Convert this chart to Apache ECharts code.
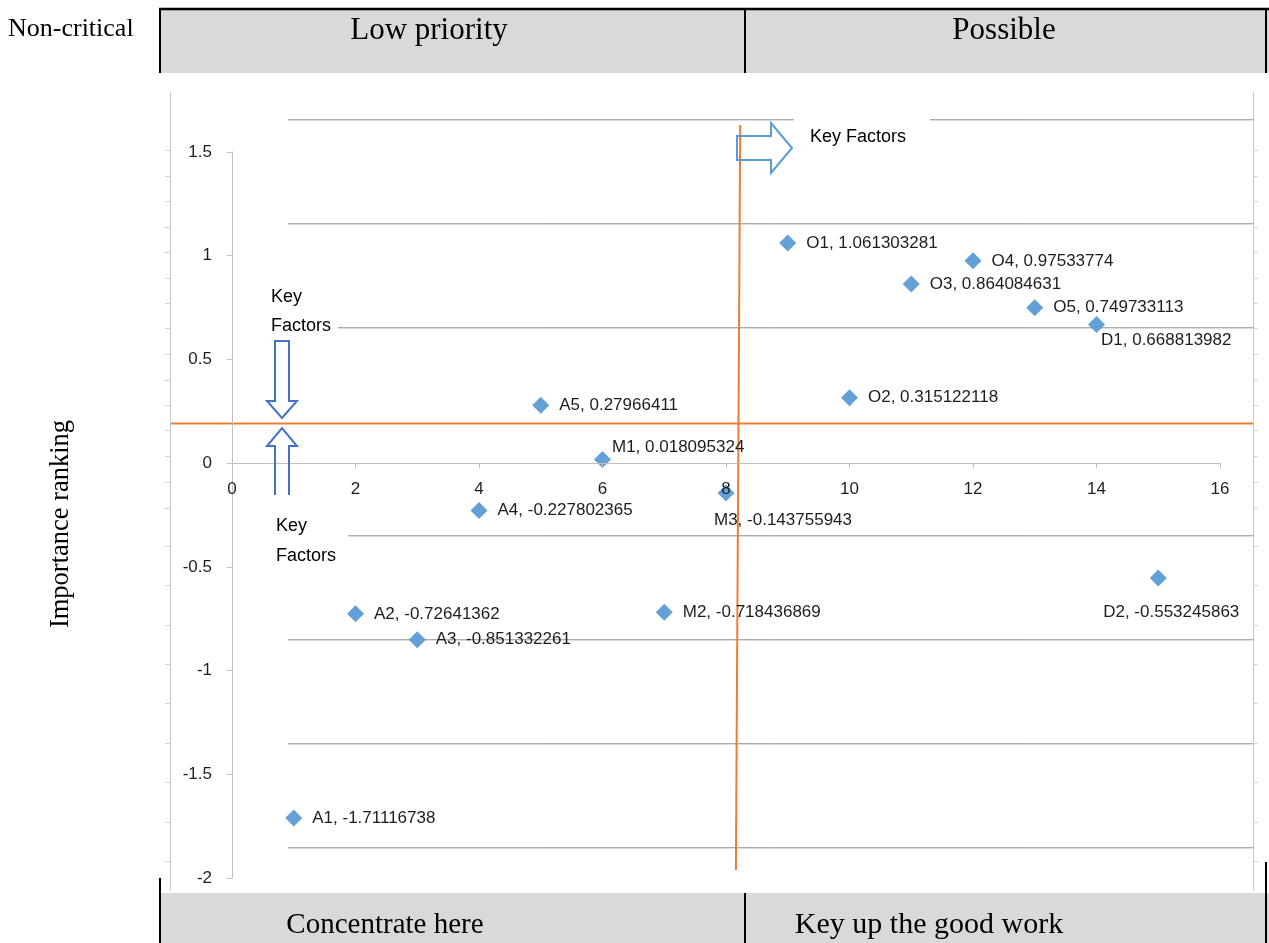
<!DOCTYPE html>
<html>
<head>
<meta charset="utf-8">
<script src="https://cdn.jsdelivr.net/npm/echarts@6/dist/echarts.min.js"></script>
<style>
  html, body { margin: 0; padding: 0; background: #ffffff; }
  #chart { width: 1269px; height: 943px; }
</style>
</head>
<body>
<div id="chart"></div>
<script>
// Factor codes, their sequence position and importance score
const factorNames = ['A1', 'A2', 'A3', 'A4', 'A5', 'M1', 'M2', 'M3', 'O1', 'O2', 'O3', 'O4', 'O5', 'D1', 'D2'];
const factorX = [1, 2, 3, 4, 5, 6, 7, 8, 9, 10, 11, 12, 13, 14, 15];
const factorY = [-1.71116738, -0.72641362, -0.851332261, -0.227802365, 0.27966411, 0.018095324,
  -0.718436869, -0.143755943, 1.061303281, 0.315122118, 0.864084631, 0.97533774, 0.749733113,
  0.668813982, -0.553245863];

// Threshold lines splitting the key factors
const thresholdY = 0.19;
const thresholdX = [8.23, 8.16];

// Ruled guide lines across the plot
const guideLevels = [1.65, 1.15, 0.65, -0.35, -0.85, -1.35, -1.85];

// Minor ticks on the outer frame
const frameTicks = [1.505, 1.38, 1.26, 1.135, 1.014, 0.889, 0.769, 0.649, 0.524, 0.399, 0.279,
  0.159, 0.034, -0.091, -0.216, -0.399, -0.587, -0.779, -0.966, -1.154, -1.346, -1.534,
  -1.726, -1.913];

// Quadrant captions
const topCells = ['Low priority', 'Possible'];
const bottomCells = ['Concentrate here', 'Key up the good work'];

const chart = echarts.init(document.getElementById('chart'), null, { renderer: 'canvas' });

const SANS = 'Liberation Sans';
const SERIF = 'Liberation Serif';
const BLUE = '#5b9bd5';
const ORANGE = '#ed7d31';
const INK = '#1f1f1f';

// Plot area of the main grid (pixels)
const PLOT = { left: 232, right: 49, top: 152, bottom: 65 };
const Y_MIN = -2, Y_MAX = 1.5;
// Move the x axis up from the grid bottom to the y = 0 line
const plotHeight = 943 - PLOT.top - PLOT.bottom;
const xAxisLift = -plotHeight * (0 - Y_MIN) / (Y_MAX - Y_MIN);

// Label placement per factor (others sit to the right of the marker)
const labelPlacement = {
  M1: { position: 'right', distance: 10, offset: [-9, -12] },
  M3: { position: 'bottom', distance: 5, offset: [57, 5] },
  D1: { position: 'right', distance: 10, offset: [-14, 16] },
  D2: { position: 'bottom', distance: 5, offset: [13, 12] }
};

const scatterData = factorNames.map((n, i) => {
  const item = { name: n, value: [factorX[i], factorY[i]] };
  if (labelPlacement[n]) item.label = labelPlacement[n];
  return item;
});

// Guide and threshold lines live on the outer frame grid (same scale, wider extent)
const guideSeries = guideLevels.map(v => ({
  type: 'line',
  xAxisIndex: 1, yAxisIndex: 1,
  data: [[0.907, v], [16.534, v]],
  symbol: 'none',
  silent: true,
  z: 2,
  lineStyle: { color: '#8c8c8c', width: 1 }
}));

const frameAxis = (pos) => ({
  type: 'value',
  gridIndex: 1,
  position: pos,
  min: -2.0529,
  max: 1.7837,
  z: 4,
  axisLine: { show: true, onZero: false, lineStyle: { color: '#c8c8c8', width: 1 } },
  axisTick: { show: true, length: 5, inside: false, customValues: frameTicks,
    lineStyle: { color: '#d4d4d4' } },
  axisLabel: { show: false },
  splitLine: { show: false }
});

// Table bands, captions and annotation shapes
const graphics = [
  // top band
  { type: 'rect', z: 1, shape: { x: 159, y: 9, width: 1110, height: 64 }, style: { fill: '#d9d9d9' } },
  { type: 'line', z: 1, shape: { x1: 159, y1: 9, x2: 1269, y2: 9 }, style: { stroke: '#000', lineWidth: 2.5 } },
  { type: 'line', z: 1, shape: { x1: 160, y1: 9, x2: 160, y2: 73 }, style: { stroke: '#000', lineWidth: 2 } },
  { type: 'line', z: 1, shape: { x1: 745, y1: 9, x2: 745, y2: 73 }, style: { stroke: '#000', lineWidth: 2 } },
  { type: 'line', z: 1, shape: { x1: 1266, y1: 9, x2: 1266, y2: 73 }, style: { stroke: '#000', lineWidth: 2 } },
  { type: 'text', z: 1, style: { text: topCells[0], x: 429, y: 31, align: 'center', verticalAlign: 'middle',
      font: '31px "' + SERIF + '"', fill: '#000' } },
  { type: 'text', z: 1, style: { text: topCells[1], x: 1004, y: 31, align: 'center', verticalAlign: 'middle',
      font: '31px "' + SERIF + '"', fill: '#000' } },
  // bottom band
  { type: 'rect', z: 1, shape: { x: 159, y: 893, width: 1110, height: 50 }, style: { fill: '#d9d9d9' } },
  { type: 'line', z: 1, shape: { x1: 160, y1: 878, x2: 160, y2: 943 }, style: { stroke: '#000', lineWidth: 2 } },
  { type: 'line', z: 1, shape: { x1: 745, y1: 893, x2: 745, y2: 943 }, style: { stroke: '#000', lineWidth: 2 } },
  { type: 'line', z: 1, shape: { x1: 1266, y1: 862, x2: 1266, y2: 943 }, style: { stroke: '#000', lineWidth: 2 } },
  { type: 'text', z: 1, style: { text: bottomCells[0], x: 385, y: 925, align: 'center', verticalAlign: 'middle',
      font: '29px "' + SERIF + '"', fill: '#000' } },
  { type: 'text', z: 1, style: { text: bottomCells[1], x: 929, y: 925, align: 'center', verticalAlign: 'middle',
      font: '30px "' + SERIF + '"', fill: '#000' } },
  // side captions
  { type: 'text', z: 1, style: { text: 'Non-critical', x: 8, y: 29, align: 'left', verticalAlign: 'middle',
      font: '26px "' + SERIF + '"', fill: '#000' } },
  { type: 'text', z: 1, x: 61, y: 524, rotation: Math.PI / 2,
    style: { text: 'Importance ranking', x: 0, y: 0, align: 'center', verticalAlign: 'middle',
      font: '26.5px "' + SERIF + '"', fill: '#000' } },
  // "Key Factors" text boxes (white fill)
  { type: 'rect', z: 30, shape: { x: 268, y: 283, width: 70, height: 58 }, style: { fill: '#fff' } },
  { type: 'text', z: 31, style: { text: 'Key\nFactors', x: 271, y: 283, align: 'left', verticalAlign: 'top',
      font: '18px "' + SANS + '"', lineHeight: 29, fill: '#000' } },
  { type: 'rect', z: 30, shape: { x: 272, y: 510, width: 76, height: 60 }, style: { fill: '#fff' } },
  { type: 'text', z: 31, style: { text: 'Key\nFactors', x: 276, y: 511, align: 'left', verticalAlign: 'top',
      font: '18px "' + SANS + '"', lineHeight: 30, fill: '#000' } },
  { type: 'rect', z: 30, shape: { x: 794, y: 110, width: 136, height: 52 }, style: { fill: '#fff' } },
  { type: 'text', z: 31, style: { text: 'Key Factors', x: 810, y: 137, align: 'left', verticalAlign: 'middle',
      font: '18px "' + SANS + '"', fill: '#000' } },
  // block arrows
  { type: 'polygon', z: 32, shape: { points: [[737, 136], [771, 136], [771, 123], [792, 148], [771, 173], [771, 160], [737, 160]] },
    style: { fill: 'none', stroke: BLUE, lineWidth: 2 } },
  { type: 'polygon', z: 32, shape: { points: [[275, 341], [289, 341], [289, 401], [297, 401], [282, 418], [267, 401], [275, 401]] },
    style: { fill: '#fff', stroke: '#4472c4', lineWidth: 2 } },
  { type: 'polyline', z: 32, shape: { points: [[275, 495], [275, 446], [267, 446], [282, 428], [297, 446], [289, 446], [289, 495]] },
    style: { fill: 'none', stroke: '#4472c4', lineWidth: 2 } }
];

const option = {
  animation: false,
  backgroundColor: '#ffffff',
  grid: [
    { left: PLOT.left, right: PLOT.right, top: PLOT.top, bottom: PLOT.bottom, containLabel: false, outerBoundsMode: 'none' },
    { left: 170, right: 16, top: 92, bottom: 53, containLabel: false, outerBoundsMode: 'none' }
  ],
  xAxis: [
    {
      type: 'value', gridIndex: 0, min: 0, max: 16, interval: 2, z: 6,
      position: 'bottom', offset: xAxisLift,
      axisLine: { show: true, onZero: false, lineStyle: { color: '#bfbfbf', width: 1 } },
      axisTick: { show: true, length: 5, lineStyle: { color: '#bfbfbf' } },
      axisLabel: { margin: 18, fontFamily: SANS, fontSize: 17, color: INK },
      splitLine: { show: false }
    },
    {
      type: 'value', gridIndex: 1, min: -1.004, max: 16.534, show: false,
      axisLine: { show: false, onZero: false }, axisTick: { show: false },
      axisLabel: { show: false }, splitLine: { show: false }
    }
  ],
  yAxis: [
    {
      type: 'value', gridIndex: 0, min: Y_MIN, max: Y_MAX, interval: 0.5, z: 6,
      axisLine: { show: true, onZero: false, lineStyle: { color: '#bfbfbf', width: 1 } },
      axisTick: { show: true, length: 5, lineStyle: { color: '#bfbfbf' } },
      axisLabel: { margin: 20, fontFamily: SANS, fontSize: 17, color: INK },
      splitLine: { show: false }
    },
    frameAxis('left'),
    frameAxis('right')
  ],
  series: [
    ...guideSeries,
    {
      type: 'line', xAxisIndex: 1, yAxisIndex: 1, symbol: 'none', silent: true, z: 3,
      data: [[-1.004, thresholdY], [16.534, thresholdY]],
      lineStyle: { color: ORANGE, width: 2 }
    },
    {
      type: 'line', xAxisIndex: 1, yAxisIndex: 1, symbol: 'none', silent: true, z: 3,
      data: [[thresholdX[0], 1.625], [thresholdX[1], -1.957]],
      lineStyle: { color: ORANGE, width: 2 }
    },
    {
      type: 'scatter', xAxisIndex: 0, yAxisIndex: 0, z: 5,
      symbol: 'diamond', symbolSize: 17,
      itemStyle: { color: BLUE, opacity: 0.95 },
      data: scatterData,
      label: {
        show: true, position: 'right', distance: 10,
        fontFamily: SANS, fontSize: 17, color: '#111111',
        formatter: p => p.name + ', ' + p.value[1]
      }
    }
  ],
  graphic: { elements: graphics }
};

chart.setOption(option);
</script>
</body>
</html>
